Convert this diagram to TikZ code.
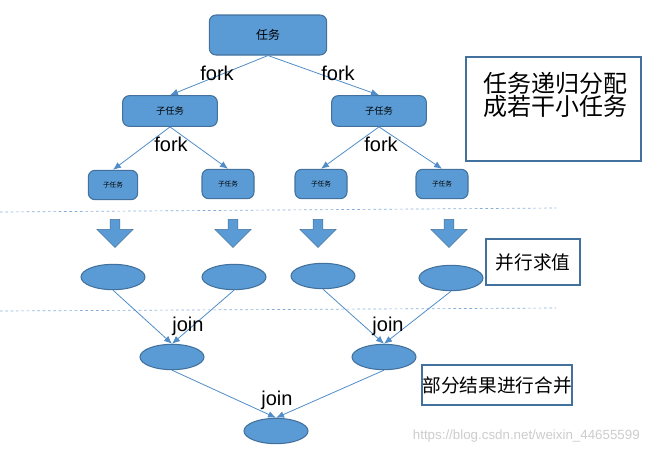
\documentclass[tikz,border=0pt]{standalone}
\usepackage{fontspec}
\setmainfont{Liberation Sans}
\newfontfamily\cjk{Noto Sans CJK SC}
\usetikzlibrary{shapes.arrows,shapes.geometric,arrows.meta}
\definecolor{taskfill}{RGB}{91,155,213}
\definecolor{taskdraw}{RGB}{65,113,156}
\definecolor{linkblue}{RGB}{80,140,200}
\tikzset{
  task/.style={draw=taskdraw, fill=taskfill, rounded corners=5pt, line width=0.8pt, inner sep=0pt, font=\cjk},
  val/.style={ellipse, draw=taskdraw, fill=taskfill, line width=0.8pt, minimum width=48pt, minimum height=19pt, inner sep=0pt},
  link/.style={draw=linkblue, -{Latex[length=6pt,width=5pt]}, line width=0.6pt},
  tag/.style={font=\fontsize{15}{15}\selectfont, inner sep=0.75pt},
  note/.style={draw=taskdraw, line width=1.5pt, font=\cjk\fontsize{14}{14}\selectfont, inner sep=0pt},
  down/.style={single arrow, shape border rotate=270, fill=taskfill, draw=taskdraw, minimum width=27pt, single arrow head extend=6pt, minimum height=21pt, inner sep=2pt, single arrow tip angle=90},
}
\begin{document}
\begin{tikzpicture}[x=0.75pt,y=0.75pt,yscale=-1,xscale=1]
\useasboundingbox (0,0) rectangle (648,454);

% task boxes
\node [task, minimum width=88pt, minimum height=30pt, font=\cjk\small] (root) at (268,35) {任务};
\node [task, minimum width=71pt, minimum height=23pt, font=\cjk\scriptsize] (subL) at (170,111) {子任务};
\node [task, minimum width=71pt, minimum height=23pt, font=\cjk\scriptsize] (subR) at (379,111) {子任务};
\node [task, minimum width=37pt, minimum height=22pt, font=\cjk\fontsize{5}{5}\selectfont] (leafA) at (113,185) {子任务};
\node [task, minimum width=39pt, minimum height=22pt, font=\cjk\fontsize{5}{5}\selectfont] (leafB) at (228,184) {子任务};
\node [task, minimum width=39pt, minimum height=22pt, font=\cjk\fontsize{5}{5}\selectfont] (leafC) at (321,184) {子任务};
\node [task, minimum width=39pt, minimum height=22pt, font=\cjk\fontsize{5}{5}\selectfont] (leafD) at (442,184) {子任务};

% fork links
\draw [link] (root.south) -- (subL.north);
\draw [link] (root.south) -- (subR.north);
\draw [link] (subL.south) -- (leafA.north);
\draw [link] (subL.south) -- (leafB.north);
\draw [link] (subR.south) -- (leafC.north);
\draw [link] (subR.south) -- (leafD.north);

\node [tag] (fork1) at (217,73) {fork};
\node [tag] (fork2) at (338,73) {fork};
\node [tag] (fork3) at (171,144) {fork};
\node [tag] (fork4) at (381,144) {fork};

% dashed separators
\coordinate (sepA) at (0,212);
\coordinate (sepB) at (556,208);
\coordinate (sepC) at (0,311);
\coordinate (sepD) at (556,308);
\draw [linkblue!70, dash pattern={on 2pt off 2pt}, line width=0.5pt] (sepA) -- (sepB);
\draw [linkblue!70, dash pattern={on 2pt off 2pt}, line width=0.5pt] (sepC) -- (sepD);

% down arrows
\node [down] (arrA) at (115,231) {};
\node [down] (arrB) at (233,231) {};
\node [down] (arrC) at (318,231) {};
\node [down] (arrD) at (449,231) {};

% values
\node [val] (valA) at (113,277) {};
\node [val] (valB) at (234,277) {};
\node [val] (valC) at (323,276) {};
\node [val] (valD) at (451,278) {};
\node [val] (midL) at (172,357) {};
\node [val] (midR) at (384,357) {};
\node [val] (final) at (276,431) {};

% join links
\draw [link] (valA.south) -- (midL.north);
\draw [link] (valB.south) -- (midL.north);
\draw [link] (valC.south) -- (midR.north);
\draw [link] (valD.south) -- (midR.north);
\draw [link] (midL.south) -- (final.north);
\draw [link] (midR.south) -- (final.north);

\node [tag] (join1) at (188,326) {join};
\node [tag] (join2) at (388,326) {join};
\node [tag] (join3) at (277,400) {join};

% notes
\node [note, minimum width=131pt, minimum height=78pt, anchor=north west] (noteSplit) at (465,56) {};
\node [font=\cjk\fontsize{18}{10}\selectfont, align=center, inner sep=0pt] (splitText) at (555,95) {任务递归分配\\成若干小任务};
\node [note, minimum width=70pt, minimum height=35pt] (noteEval) at (533,262) {并行求值};
\node [note, minimum width=100pt, minimum height=30pt] (noteMerge) at (497,385) {部分结果进行合并};

% watermark
\node [text=gray!40, font=\fontsize{10}{10}\selectfont, anchor=east, inner sep=0pt] (mark) at (640,436) {https://blog.csdn.net/weixin\_44655599};
\end{tikzpicture}
\end{document}
